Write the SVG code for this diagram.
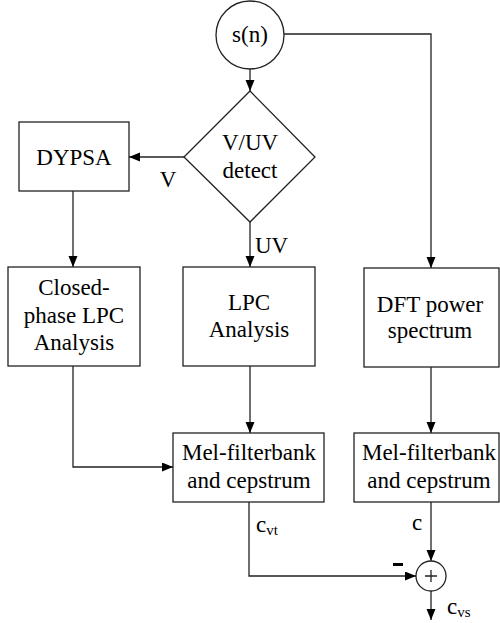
<svg xmlns="http://www.w3.org/2000/svg" width="500" height="623" viewBox="0 0 500 623">
<style>
.n{fill:#fff;stroke:#222;stroke-width:1.3}
.c{fill:none;stroke:#222;stroke-width:1.3}
text{font-family:"Liberation Serif","Times New Roman",serif;font-size:23px;fill:#000}
.m{text-anchor:middle}
.s{font-size:15px}
</style>
<defs>
<marker id="a" markerUnits="userSpaceOnUse" markerWidth="12" markerHeight="10" refX="11" refY="4.5" orient="auto">
<path d="M0,0 L11,4.5 L0,9 z" fill="#000"/>
</marker>
</defs>
<g id="connectors">
<path class="c" d="M250,69 V91" marker-end="url(#a)"/>
<path class="c" d="M284,34 H431 V268" marker-end="url(#a)"/>
<path class="c" d="M184,157 H129" marker-end="url(#a)"/>
<path class="c" d="M73,191 V267" marker-end="url(#a)"/>
<path class="c" d="M250,222 V267" marker-end="url(#a)"/>
<path class="c" d="M250,366 V433" marker-end="url(#a)"/>
<path class="c" d="M431,367 V433" marker-end="url(#a)"/>
<path class="c" d="M73,366 V467 H173" marker-end="url(#a)"/>
<path class="c" d="M249,502 V576 H416" marker-end="url(#a)"/>
<path class="c" d="M431,502 V561" marker-end="url(#a)"/>
<path class="c" d="M431,591 V620" marker-end="url(#a)"/>
<text x="168" y="187" class="m">V</text>
<text x="255" y="253">UV</text>
<text x="256" y="532">c<tspan class="s" dy="3">vt</tspan></text>
<text x="412" y="530">c</text>
<rect x="393" y="563" width="10" height="3" fill="#000"/>
<text x="447" y="614">c<tspan class="s" dy="3">vs</tspan></text>
</g>
<g id="sn">
<circle class="n" cx="250" cy="35" r="34"/>
<text x="250" y="42" class="m">s(n)</text>
</g>
<g id="vuv">
<path class="n" d="M250,91 L315,157 L250,222 L184,157 Z"/>
<text x="250" y="150" class="m">V/UV</text>
<text x="250" y="178" class="m">detect</text>
</g>
<g id="dypsa">
<rect class="n" x="19" y="122" width="110" height="69"/>
<text x="74" y="165" class="m">DYPSA</text>
</g>
<g id="closed">
<rect class="n" x="8" y="267" width="132" height="99"/>
<text x="74" y="295" class="m">Closed-</text>
<text x="74" y="323" class="m">phase LPC</text>
<text x="74" y="350" class="m">Analysis</text>
</g>
<g id="lpc">
<rect class="n" x="183" y="267" width="132" height="99"/>
<text x="249" y="310" class="m">LPC</text>
<text x="249" y="337" class="m">Analysis</text>
</g>
<g id="dft">
<rect class="n" x="364" y="268" width="135" height="99"/>
<text x="430" y="312" class="m">DFT power</text>
<text x="430" y="338" class="m">spectrum</text>
</g>
<g id="mel1">
<rect class="n" x="173" y="433" width="151" height="69"/>
<text x="249" y="460" class="m">Mel-filterbank</text>
<text x="249" y="488" class="m">and cepstrum</text>
</g>
<g id="mel2">
<rect class="n" x="354" y="433" width="145" height="69"/>
<text x="429" y="460" class="m">Mel-filterbank</text>
<text x="429" y="488" class="m">and cepstrum</text>
</g>
<g id="sum">
<circle class="n" cx="431" cy="576" r="15"/>
<path class="c" d="M425,576 H437 M431,570 V582" stroke-width="1"/>
</g>
</svg>
